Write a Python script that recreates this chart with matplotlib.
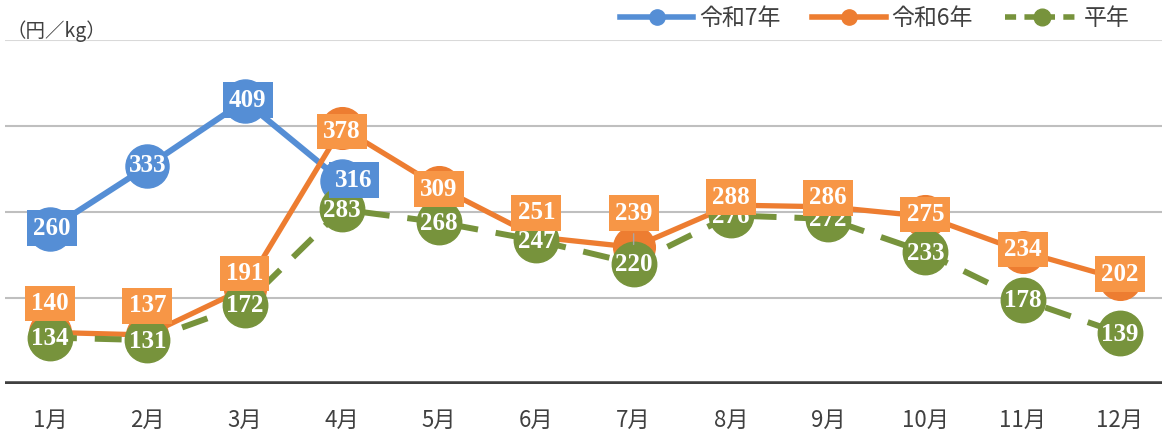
import matplotlib
matplotlib.use("Agg")
import matplotlib.pyplot as plt
from matplotlib.lines import Line2D

plt.rcParams['font.family'] = ['Noto Sans CJK JP', 'DejaVu Sans']

months = ['1月', '2月', '3月', '4月', '5月', '6月', '7月', '8月', '9月', '10月', '11月', '12月']
r7 = [260, 333, 409, 316]
r6 = [140, 137, 191, 378, 309, 251, 239, 288, 286, 275, 234, 202]
avg = [134, 131, 172, 283, 268, 247, 220, 276, 272, 233, 178, 139]
series_names = ['令和7年', '令和6年', '平年']

# label offsets in pixels (moved labels as in the original)
r6_dy = [29, 29, 15, -4, -2, 24, 34, 8, 9, 2, 2, 5]
r7_dx = [2, 0, 3, 12]

blue = '#558ED5'
orange = '#ED7D31'
orange_box = '#F79646'
green = '#77933C'

fig = plt.figure(figsize=(11.62, 4.33), dpi=100)
ax = fig.add_axes([0.0043, 0.1132, 0.9957, 0.7945])
ax.set_xlim(-0.4626, 11.432)
ax.set_ylim(80, 480)

for yv in [180, 280, 380]:
    ax.axhline(yv, color='#BFBFBF', lw=1.5, zorder=0)
ax.axhline(480, color='#D9D9D9', lw=1.5, zorder=0)
ax.axhline(80, color='#404040', lw=4, zorder=1)

x7 = list(range(len(r7)))
x = list(range(len(months)))
ax.plot(x7, r7, color=blue, lw=4.3, marker='o', ms=31, zorder=2)
ax.plot(x, r6, color=orange, lw=3.8, marker='o', ms=30, zorder=3)
ax.plot(x, avg, color=green, lw=4.3, ls=(0, (4.5, 3)), marker='o', ms=32, zorder=4)

lab = dict(color='white', fontsize=18, family='Liberation Serif', weight='bold',
           ha='center', va='center', zorder=10)

for i, v in enumerate(avg):
    ax.annotate(str(v), (i, v), xytext=(0, -1), textcoords='offset pixels', **lab)

for i, v in enumerate(r7):
    box = None if i == 1 else dict(boxstyle='square,pad=0.25', fc=blue, ec='none')
    ax.annotate(str(v), (i, v), xytext=(r7_dx[i], 1), textcoords='offset pixels',
                bbox=box, **lab)

for i, v in enumerate(r6):
    arrow = dict(arrowstyle='-', color='#A6A6A6', lw=1) if r6_dy[i] > 30 else None
    ax.annotate(str(v), (i, v), xytext=(0, r6_dy[i]), textcoords='offset pixels',
                bbox=dict(boxstyle='square,pad=0.25', fc=orange_box, ec='none'),
                arrowprops=arrow, **lab)

ax.set_xticks(x)
ax.set_xticklabels(months, fontsize=16, color='#404040')
ax.tick_params(axis='x', length=0, pad=18)
ax.set_yticks([])
for s in ax.spines.values():
    s.set_visible(False)

fig.text(0.006, 0.928, '（円／kg）', fontsize=14, color='#404040', va='center')

handles = [
    Line2D([], [], color=blue, lw=4, marker='o', ms=11),
    Line2D([], [], color=orange, lw=4, marker='o', ms=11),
    Line2D([], [], color=green, lw=4, ls=(0, (2, 1.5)), marker='o', ms=12),
]
fig.legend(handles, series_names, loc='center right', bbox_to_anchor=(0.99, 0.957),
           ncol=3, frameon=False, fontsize=16.5, handlelength=3.2, columnspacing=1.4,
           handletextpad=0.25, labelcolor='#404040')

fig.savefig('out.png', dpi=100)
